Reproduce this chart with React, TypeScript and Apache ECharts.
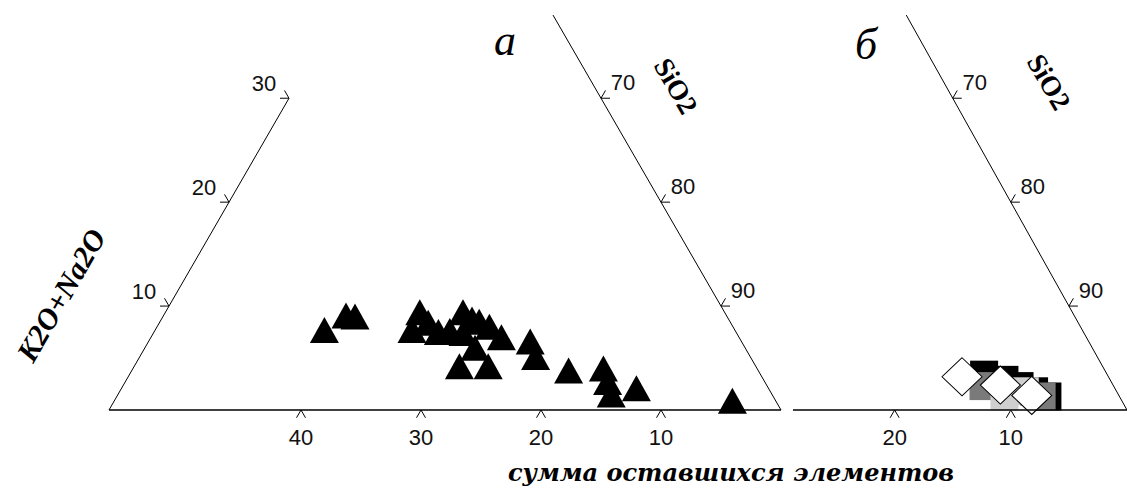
import React, { useEffect, useRef } from 'react';
import * as echarts from 'echarts';

// ---- Ternary data, wt.% (SiO2, K2O+Na2O); the third component is the rest ----
// Panel а — triangles
const aSiO2 = [58.1, 59.2, 60.0, 65.2, 65.4, 66.4, 67.7, 68.6, 68.8, 69.9, 69.8, 71.7, 70.6, 73.2, 71.1, 73.5, 71.5, 75.8, 77.0, 80.4, 83.2, 84.2, 85.1, 86.9, 95.5];
const aAlk = [7.7, 9.1, 9.0, 9.4, 7.7, 8.4, 7.5, 7.6, 9.4, 8.7, 7.4, 8.0, 8.5, 7.0, 4.2, 4.2, 6.0, 6.6, 5.1, 3.8, 4.0, 2.7, 1.5, 2.1, 0.9];

// Panel б — four groups
const bBlackSiO2 = [86.0, 88.0, 89.6, 91.1, 92.5];
const bBlackAlk = [3.4, 2.9, 2.3, 1.8, 1.3];
const bDarkSiO2 = [86.5, 92.0];
const bDarkAlk = [2.3, 1.3];
const bLightSiO2 = [90.3, 88.8];
const bLightAlk = [1.8, 1.3];
const bWhiteSiO2 = [84.2, 87.9, 91.1];
const bWhiteAlk = [3.2, 2.4, 1.4];

// ---- Axis ticks ----
const alkTicks = [10, 20, 30]; // K2O+Na2O on the left edge of panel а
const leftEdgeSiO2 = 44; // the left edge of panel а is a line of constant SiO2
const restTicksA = [40, 30, 20, 10]; // "сумма оставшихся элементов"
const restTicksB = [20, 10];
const sio2Ticks = [70, 80, 90]; // SiO2 on the rest = 0 edge
const rightEdgeTopAlk = 38;
const panelBLeftSiO2 = 71.25;

// Ternary -> cartesian: x = horizontal distance from the SiO2 apex, y = K2O+Na2O
const proj = (s: number, a: number): number[] => [100 - s - a / 2, a];
const zip = (s: number[], a: number[]) => s.map((v, i) => proj(v, a[i]));

const PX_PER_UNIT = 12;
const BASE_Y = 410;
const H_PER_UNIT = PX_PER_UNIT * Math.sqrt(3) / 2;

function tickSeries(grid: number, pts: number[][], labels: string[], dirDeg: number, ldx: number, ldy: number) {
  return {
    type: 'custom',
    xAxisIndex: grid,
    yAxisIndex: grid,
    clip: false,
    silent: true,
    data: pts,
    renderItem: (params: any, api: any) => {
      const c = api.coord([api.value(0), api.value(1)]);
      const x = c[0];
      const y = c[1];
      const back = ((dirDeg + 180) * Math.PI) / 180;
      const sp = Math.PI / 6;
      const L = 9;
      const p1 = [x + L * Math.cos(back - sp), y - L * Math.sin(back - sp)];
      const p2 = [x + L * Math.cos(back + sp), y - L * Math.sin(back + sp)];
      return {
        type: 'group',
        children: [
          {
            type: 'polyline',
            shape: { points: [p1, [x, y], p2] },
            style: { stroke: '#000', lineWidth: 1, fill: null },
          },
          {
            type: 'text',
            x: x + ldx,
            y: y + ldy,
            style: {
              text: labels[params.dataIndex],
              fill: '#111',
              font: '22px "Liberation Sans", Arial, sans-serif',
              align: 'center',
              verticalAlign: 'middle',
              textAlign: 'center',
              textVerticalAlign: 'middle',
            },
          },
        ],
      };
    },
  };
}

function lineSeries(grid: number, pts: number[][], width: number) {
  return {
    type: 'line',
    xAxisIndex: grid,
    yAxisIndex: grid,
    data: pts,
    showSymbol: false,
    symbol: 'none',
    clip: false,
    silent: true,
    lineStyle: { color: '#000', width },
  };
}

function scatter(grid: number, pts: number[][], symbol: string, size: number[], color: string, border?: string) {
  return {
    type: 'scatter',
    xAxisIndex: grid,
    yAxisIndex: grid,
    data: pts,
    symbol,
    symbolSize: size,
    clip: false,
    silent: true,
    itemStyle: border
      ? { color, opacity: 1, borderColor: border, borderWidth: 1 }
      : { color, opacity: 1 },
  };
}

function label(text: string, x: number, y: number, font: string, rotation = 0) {
  return {
    type: 'text',
    x,
    y,
    rotation,
    style: {
      text,
      font,
      fill: '#000',
      align: 'center',
      verticalAlign: 'middle',
      textAlign: 'center',
      textVerticalAlign: 'middle',
    },
  };
}

export default function App() {
  const ref = useRef<HTMLDivElement>(null);

  useEffect(() => {
    if (!ref.current) return;
    const chart = echarts.init(ref.current, undefined, { renderer: 'svg' });

    const apexA = 781;
    const apexB = 1138;
    const leftB = 793;

    const axisOff = { show: false };
    const xAxis = (grid: number, max: number) => ({ type: 'value', gridIndex: grid, min: 0, max, inverse: true, ...axisOff });
    const yAxis = (grid: number) => ({ type: 'value', gridIndex: grid, min: 0, max: BASE_Y / H_PER_UNIT, ...axisOff });

    const serif = '"Liberation Serif", "Times New Roman", serif';

    chart.setOption({
      animation: false,
      backgroundColor: '#ffffff',
      grid: [
        { left: 0, top: 0, width: apexA, height: BASE_Y },
        { left: leftB, top: 0, width: apexB - leftB, height: BASE_Y },
      ],
      xAxis: [xAxis(0, apexA / PX_PER_UNIT), xAxis(1, (apexB - leftB) / PX_PER_UNIT)],
      yAxis: [yAxis(0), yAxis(1)],
      series: [
        // panel а frame
        lineSeries(0, [proj(leftEdgeSiO2, alkTicks[alkTicks.length - 1]), proj(leftEdgeSiO2, 0)], 1),
        lineSeries(0, [proj(leftEdgeSiO2, 0), proj(100, 0)], 1.6),
        lineSeries(0, [proj(100, 0), proj(100 - rightEdgeTopAlk, rightEdgeTopAlk)], 1),
        // panel б frame
        lineSeries(1, [proj(panelBLeftSiO2, 0), proj(100, 0)], 1.6),
        lineSeries(1, [proj(100, 0), proj(100 - rightEdgeTopAlk, rightEdgeTopAlk)], 1),
        // ticks
        tickSeries(0, alkTicks.map((a) => proj(leftEdgeSiO2, a)), alkTicks.map(String), -30, -25, -15),
        tickSeries(0, restTicksA.map((r) => proj(100 - r, 0)), restTicksA.map(String), 90, 0, 27),
        tickSeries(0, sio2Ticks.map((s) => proj(s, 100 - s)), sio2Ticks.map(String), 210, 22, -16),
        tickSeries(1, restTicksB.map((r) => proj(100 - r, 0)), restTicksB.map(String), 90, 0, 27),
        tickSeries(1, sio2Ticks.map((s) => proj(s, 100 - s)), sio2Ticks.map(String), 210, 22, -16),
        // data
        scatter(0, zip(aSiO2, aAlk), 'triangle', [29, 26], '#000'),
        scatter(1, zip(bBlackSiO2, bBlackAlk), 'rect', [28, 28], '#000'),
        scatter(1, zip(bDarkSiO2, bDarkAlk), 'rect', [28, 28], '#7a7a7a'),
        scatter(1, zip(bLightSiO2, bLightAlk), 'rect', [28, 28], '#cfcfcf'),
        scatter(1, zip(bWhiteSiO2, bWhiteAlk), 'diamond', [40, 38], '#ffffff', '#000'),
      ],
      graphic: [
        label('а', 505, 40, `italic 44px ${serif}`),
        label('б', 866, 44, `italic 44px ${serif}`),
        label('SiO2', 676, 86, `bold 28px ${serif}`, -Math.PI / 3),
        label('SiO2', 1049, 82, `bold 28px ${serif}`, -Math.PI / 3),
        label('K2O+Na2O', 61, 295, `italic bold 30px ${serif}`, Math.PI / 3),
        label('сумма оставшихся элементов', 731, 472, `italic bold 24px "DejaVu Serif", serif`),
      ],
    });

    return () => chart.dispose();
  }, []);

  return (
    <div
      ref={ref}
      style={{ position: 'absolute', left: 0, top: 0, width: 1127, height: 488, background: '#fff' }}
    />
  );
}
